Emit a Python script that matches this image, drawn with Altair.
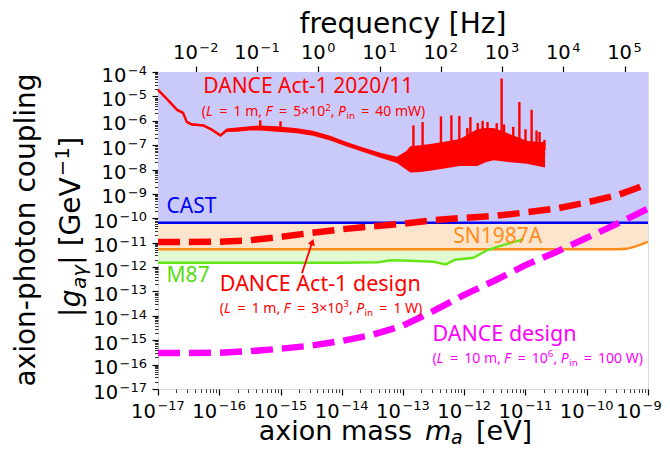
import altair as alt
import pandas as pd

EV_TO_HZ = 2.418e14  # frequency per eV of axion mass

# ---- tick labels (10 to the power of ...) ------------------------------
x_exps = [-17, -16, -15, -14, -13, -12, -11, -10, -9]
x_exp_labels = ["−17", "−16", "−15", "−14", "−13", "−12", "−11", "−10", "−9"]
y_exps = [-17, -16, -15, -14, -13, -12, -11, -10, -9, -8, -7, -6, -5, -4]
y_exp_labels = ["−17", "−16", "−15", "−14", "−13", "−12", "−11", "−10", "−9", "−8", "−7",
                "−6", "−5", "−4"]
f_exps = [-2, -1, 0, 1, 2, 3, 4, 5]
f_exp_labels = ["−2", "−1", "0", "1", "2", "3", "4", "5"]

# ---- data (log10 values) ------------------------------------------------
cast_logg = -10.18

sn_logm = [-17.0, -9.5, -9.35, -9.2, -9.0]
sn_logg = [-11.27, -11.27, -11.25, -11.15, -10.97]

m87_logm = [-17.0, -14.0, -13.4, -13.2, -12.9, -12.5, -12.3, -12.15, -11.85, -11.62,
            -11.5, -11.3, -11.03]
m87_logg = [-11.82, -11.82, -11.80, -11.72, -11.74, -11.78, -11.89, -11.70, -11.62, -11.30,
            -11.20, -11.05, -10.85]
m87_fill_n = 10  # points of the M87 curve lying below the SN1987A line

act1_design_logm = [-17.0, -16.5, -16.0, -15.5, -15.0, -14.5, -14.0, -13.5, -13.0, -12.5,
                    -12.0, -11.5, -11.0, -10.5, -10.0, -9.5, -9.2, -9.0]
act1_design_logg = [-10.97, -10.97, -10.96, -10.90, -10.76, -10.60, -10.45, -10.33, -10.22,
                    -10.08, -9.98, -9.90, -9.76, -9.60, -9.35, -9.05, -8.78, -8.58]

dance_logm = [-17.0, -16.5, -16.0, -15.5, -15.0, -14.5, -14.0, -13.5, -13.0, -12.5, -12.0,
              -11.5, -11.0, -10.5, -10.0, -9.5, -9.0]
dance_logg = [-15.52, -15.52, -15.51, -15.45, -15.35, -15.22, -15.03, -14.78, -14.40, -13.80,
              -13.14, -12.55, -11.92, -11.38, -10.80, -10.22, -9.60]

meas_logm = [-17.0, -16.86, -16.69, -16.59, -16.53, -16.45, -16.26, -16.12, -15.98, -15.88,
             -15.71, -15.50, -15.33, -15.06, -14.73, -14.47, -14.19, -13.92, -13.65, -13.37,
             -13.10, -12.95, -12.88, -12.72, -12.56, -12.30, -12.07, -11.90, -11.79, -11.65,
             -11.52, -11.25, -10.98, -10.80, -10.68]
meas_mid = [-4.73, -5.09, -5.55, -5.68, -6.05, -6.15, -6.19, -6.37, -6.60, -6.39,
            -6.36, -6.30, -6.28, -6.32, -6.40, -6.50, -6.70, -6.95, -7.18, -7.40,
            -7.60, -7.62, -7.60, -7.55, -7.50, -7.35, -7.30, -7.20, -7.05, -7.00,
            -6.95, -7.05, -7.20, -7.25, -7.35]
meas_hi = [-4.68, -5.04, -5.50, -5.63, -6.00, -6.10, -6.14, -6.32, -6.55, -6.32,
           -6.28, -6.22, -6.19, -6.22, -6.31, -6.41, -6.61, -6.87, -7.10, -7.31,
           -7.48, -7.25, -7.05, -7.00, -6.95, -6.85, -6.75, -6.50, -6.35, -6.30,
           -6.30, -6.55, -6.82, -6.87, -6.87]
meas_lo = [-4.78, -5.14, -5.60, -5.73, -6.10, -6.20, -6.24, -6.42, -6.65, -6.46,
           -6.45, -6.40, -6.40, -6.45, -6.51, -6.61, -6.81, -7.06, -7.28, -7.52,
           -7.73, -8.00, -8.12, -8.10, -8.05, -7.95, -7.85, -7.85, -7.85, -7.70,
           -7.62, -7.70, -7.76, -7.85, -7.92]

spike_logm = [-15.33, -15.00, -12.83, -12.68, -12.38, -12.21, -12.08, -11.95, -11.90, -11.78,
              -11.70, -11.62, -11.47, -11.39, -11.35, -11.20, -11.10, -11.00, -10.90, -10.82,
              -10.77, -10.69]
spike_top = [-5.98, -6.02, -6.19, -6.05, -5.82, -5.78, -5.80, -6.30, -5.85, -6.09,
             -6.00, -6.05, -6.10, -4.27, -6.15, -6.25, -5.23, -6.35, -5.55, -6.40,
             -6.46, -6.78]
spike_base = [-6.3, -6.3, -7.3, -7.3, -7.2, -7.2, -7.1, -7.0, -7.0, -7.0,
              -7.0, -7.0, -7.0, -7.0, -7.0, -7.0, -7.1, -7.1, -7.2, -7.2,
              -7.2, -7.2]

# ---- styles --------------------------------------------------------------
RED = "#FF0000"
MAGENTA = "#FF00FF"
BLUE = "#0000F5"
ORANGE = "#FF8C1A"
GREEN = "#66E61A"
TICK_FONT = "DejaVu Sans"
ANN_FONT = "Noto Sans"
PLOT_W, PLOT_H = 490, 317
BASE_FS, EXP_FS = 19.5, 13
EXP_GAP = 1.5

x_scale = alt.Scale(type="log", domain=[1e-17, 1e-9], nice=False)
y_scale = alt.Scale(type="log", domain=[1e-17, 1e-4], nice=False)
f_scale = alt.Scale(type="log", domain=[EV_TO_HZ * 1e-17, EV_TO_HZ * 1e-9], nice=False)

MAJOR = "abs(log(datum.value)/LN10 - round(log(datum.value)/LN10)) < 0.001"


def tick_values(exps, minor=True):
    vals = []
    for i, e in enumerate(exps):
        vals.append(10.0 ** e)
        if minor and i < len(exps) - 1:
            vals += [k * 10.0 ** e for k in range(2, 10)]
    return vals


def make_axis(orient, exps, minor=True):
    return alt.Axis(
        orient=orient, values=tick_values(exps, minor), labels=False,
        title=None, grid=False, domain=False, tickColor="black",
        tickSize={"condition": {"test": MAJOR, "value": 6}, "value": 3.5},
        tickWidth={"condition": {"test": MAJOR, "value": 1.2}, "value": 0.8})


x_axis = make_axis("bottom", x_exps)
y_axis = make_axis("left", y_exps)
f_axis = make_axis("top", f_exps, minor=False)


def X(field):
    return alt.X(f"{field}:Q", scale=x_scale, axis=x_axis)


def Y(field):
    return alt.Y(f"{field}:Q", scale=y_scale, axis=y_axis)


def F(field):
    return alt.X(f"{field}:Q", scale=f_scale, axis=f_axis)


def p10(v):
    return [10.0 ** a for a in v]


W10 = 1.272 * BASE_FS


def exp_w(s):
    return sum(0.838 if c == "−" else 0.636 for c in s) * EXP_FS


def horizontal_labels(exps, labels, enc, y10, yexp, edge_shift=None):
    out = []
    df = pd.DataFrame({"v": p10(exps), "e": labels})
    df["w"] = [exp_w(s) for s in labels]
    df["grp"] = df["w"].round(2)
    if edge_shift:
        df.loc[df["e"] == edge_shift[0], "grp"] = -1
    for g, sub in df.groupby("grp"):
        w = sub["w"].iloc[0]
        d = W10 - (W10 + EXP_GAP + w) / 2 + (edge_shift[1] if g == -1 else 0)
        sub = sub.reset_index(drop=True)
        out.append(alt.Chart(sub).mark_text(text="10", align="right", baseline="alphabetic",
                                            font=TICK_FONT, fontSize=BASE_FS, dx=d, color="black")
                   .encode(x=enc("v"), y=alt.value(y10)))
        out.append(alt.Chart(sub).mark_text(align="left", baseline="alphabetic", font=TICK_FONT,
                                            fontSize=EXP_FS, dx=d + EXP_GAP, color="black")
                   .encode(x=enc("v"), y=alt.value(yexp), text="e:N"))
    return out


def left_labels():
    out = []
    df = pd.DataFrame({"v": p10(y_exps), "e": y_exp_labels})
    df["w"] = [exp_w(s) for s in y_exp_labels]
    df["grp"] = df["w"].round(2)
    for g, sub in df.groupby("grp"):
        w = sub["w"].iloc[0]
        sub = sub.reset_index(drop=True)
        out.append(alt.Chart(sub).mark_text(text="10", align="right", baseline="alphabetic",
                                            font=TICK_FONT, fontSize=BASE_FS, dy=9.5, color="black")
                   .encode(x=alt.value(-11 - w - EXP_GAP), y=Y("v")))
        out.append(alt.Chart(sub).mark_text(align="right", baseline="alphabetic", font=TICK_FONT,
                                            fontSize=EXP_FS, dy=3, color="black")
                   .encode(x=alt.value(-11), y=Y("v"), text="e:N"))
    return out


# rich text (mixed italic / sub / superscript) built from pieces
NOTO_W = {"(": .296, ")": .296, " ": .26, "=": .572, "m": .924, ",": .258, "×": .572,
          "W": .907, "L": .53, "F": .53, "P": .60, "i": .258, "n": .618}


def text_w(s, size):
    return sum(NOTO_W.get(c, .572) for c in s) * size


def rich(parts, x, y, size, color, font=ANN_FONT, angle=0, widths=None, data=None):
    out = []
    cum = 0.0
    one = data if data is not None else pd.DataFrame({"t": ["."]})
    for k, (txt, kind) in enumerate(parts):
        fs = size * 0.7 if kind in ("sup", "sub") else size
        dy = -0.4 * size if kind == "sup" else (0.22 * size if kind == "sub" else 0)
        style = "italic" if kind in ("i", "isub") else "normal"
        if kind == "isub":
            fs, dy = size * 0.7, 0.22 * size
        adv = widths[k] if widths else (1.45 * size if txt == " = " else text_w(txt, fs))
        shown = "=" if txt == " = " else txt
        off = (adv - text_w("=", fs)) / 2 if txt == " = " else 0
        out.append(alt.Chart(one).mark_text(text=shown, align="left", baseline="alphabetic",
                                            font=font, fontSize=fs, fontStyle=style, dx=cum + off,
                                            dy=dy, angle=angle, color=color)
                   .encode(x=x, y=y))
        cum += adv
    return out


def anchor(logm, logg):
    return pd.DataFrame({"m": [10 ** logm], "g": [10 ** logg]})


def rich_at(parts, logm, logg, size, color):
    return rich(parts, X("m"), Y("g"), size, color, data=anchor(logm, logg))


layers = []

# shaded regions
blue_df = pd.DataFrame({"m": [1e-17, 1e-9], "lo": [10 ** cast_logg] * 2, "hi": [1e-4] * 2})
layers.append(alt.Chart(blue_df).mark_area(color="#CACAFA", opacity=1)
              .encode(x=X("m"), y=Y("lo"), y2="hi"))

sn_df = pd.DataFrame({"m": p10(sn_logm), "g": p10(sn_logg), "top": [10 ** cast_logg] * len(sn_logm)})
layers.append(alt.Chart(sn_df).mark_area(color="#FDE4CC", opacity=1)
              .encode(x=X("m"), y=Y("g"), y2="top"))

green_df = pd.DataFrame({"m": p10(m87_logm[:m87_fill_n]), "g": p10(m87_logg[:m87_fill_n]),
                         "top": [10 ** sn_logg[0]] * m87_fill_n})
layers.append(alt.Chart(green_df).mark_area(color="#E2FAD2", opacity=1)
              .encode(x=X("m"), y=Y("g"), y2="top"))

# limit lines
cast_df = pd.DataFrame({"m": [1e-17, 1e-9], "g": [10 ** cast_logg] * 2})
layers.append(alt.Chart(cast_df).mark_line(color=BLUE, strokeWidth=2.6)
              .encode(x=X("m"), y=Y("g")))
layers.append(alt.Chart(sn_df).mark_line(color=ORANGE, strokeWidth=2.4)
              .encode(x=X("m"), y=Y("g")))
m87_df = pd.DataFrame({"m": p10(m87_logm), "g": p10(m87_logg)})
layers.append(alt.Chart(m87_df).mark_line(color=GREEN, strokeWidth=2.4)
              .encode(x=X("m"), y=Y("g")))

# measured DANCE Act-1 curve
meas_df = pd.DataFrame({"m": p10(meas_logm), "mid": p10(meas_mid), "hi": p10(meas_hi),
                        "lo": p10(meas_lo)})
layers.append(alt.Chart(meas_df).mark_area(color=RED, opacity=1)
              .encode(x=X("m"), y=Y("lo"), y2="hi"))
layers.append(alt.Chart(meas_df).mark_line(color=RED, strokeWidth=2.4)
              .encode(x=X("m"), y=Y("mid")))
spike_df = pd.DataFrame({"m": p10(spike_logm), "top": p10(spike_top), "base": p10(spike_base)})
layers.append(alt.Chart(spike_df).mark_rule(color=RED, strokeWidth=2.4)
              .encode(x=X("m"), y=Y("base"), y2="top"))

# design curves
a1d_df = pd.DataFrame({"m": p10(act1_design_logm), "g": p10(act1_design_logg)})
layers.append(alt.Chart(a1d_df).mark_line(color=RED, strokeWidth=6.5, strokeDash=[22, 9],
                                         strokeCap="butt", clip=True)
              .encode(x=X("m"), y=Y("g")))
dance_df = pd.DataFrame({"m": p10(dance_logm), "g": p10(dance_logg)})
layers.append(alt.Chart(dance_df).mark_line(color=MAGENTA, strokeWidth=6.5, strokeDash=[22, 9],
                                           strokeCap="butt", clip=True)
              .encode(x=X("m"), y=Y("g")))

# arrow
arrow_df = pd.DataFrame({"m": [10 ** -14.65], "g": [10 ** -12.25], "m2": [10 ** -14.475],
                         "g2": [10 ** -10.93]})
layers.append(alt.Chart(arrow_df).mark_rule(color=RED, strokeWidth=1.8)
              .encode(x=X("m"), y=Y("g"), x2="m2", y2="g2"))
head_df = pd.DataFrame({"m": [10 ** -14.48], "g": [10 ** -10.97]})
layers.append(alt.Chart(head_df).mark_point(shape="triangle-up", filled=True, size=55, angle=18,
                                           color=RED, opacity=1)
              .encode(x=X("m"), y=Y("g")))


# annotations
def ann(text, logm, logg, color, size, font=ANN_FONT):
    df = pd.DataFrame({"m": [10 ** logm], "g": [10 ** logg], "t": [text]})
    return (alt.Chart(df).mark_text(align="left", baseline="middle", font=font, fontSize=size,
                                    color=color)
            .encode(x=X("m"), y=Y("g"), text="t:N"))


layers += [
    ann("DANCE Act-1 2020/11", -16.26, -4.63, RED, 21),
    ann("CAST", -16.86, -9.55, BLUE, 21),
    ann("SN1987A", -12.18, -10.77, ORANGE, 21),
    ann("M87", -16.86, -12.38, "#55DD11", 21),
    ann("DANCE Act-1 design", -15.99, -12.75, RED, 21.5),
    ann("DANCE design", -12.52, -14.80, MAGENTA, 21.5),
]
layers += rich_at([("(", "n"), ("L", "i"), (" = ", "n"), ("1 m, ", "n"), ("F", "i"), (" = ", "n"),
                   ("5×10", "n"), ("2", "sup"), (", ", "n"), ("P", "i"), ("in", "sub"),
                   (" = ", "n"), ("40 mW)", "n")], -16.286, -5.82, 14, RED)
layers += rich_at([("(", "n"), ("L", "i"), (" = ", "n"), ("1 m, ", "n"), ("F", "i"), (" = ", "n"),
                   ("3×10", "n"), ("3", "sup"), (", ", "n"), ("P", "i"), ("in", "sub"),
                   (" = ", "n"), ("1 W)", "n")], -15.99, -13.87, 14, RED)
layers += rich_at([("(", "n"), ("L", "i"), (" = ", "n"), ("10 m, ", "n"), ("F", "i"), (" = ", "n"),
                   ("10", "n"), ("6", "sup"), (", ", "n"), ("P", "i"), ("in", "sub"),
                   (" = ", "n"), ("100 W)", "n")], -12.52, -15.92, 14, MAGENTA)

# tick labels
layers += horizontal_labels(x_exps, x_exp_labels, X, PLOT_H + 29, PLOT_H + 20.5,
                            edge_shift=("−9", -9))
layers += left_labels()

# axis titles drawn as text
title_df = pd.DataFrame({"t": ["x"]})
TITLE_Y = 368
layers.append(alt.Chart(title_df).mark_text(text="axion mass", font=TICK_FONT, fontSize=27,
                                            align="right", baseline="alphabetic", color="black")
              .encode(x=alt.value(254), y=alt.value(TITLE_Y)))
layers.append(alt.Chart(title_df).mark_text(text="m", font=TICK_FONT, fontSize=27,
                                            fontStyle="italic", align="left",
                                            baseline="alphabetic", color="black")
              .encode(x=alt.value(267), y=alt.value(TITLE_Y)))
layers.append(alt.Chart(title_df).mark_text(text="a", font=TICK_FONT, fontSize=19,
                                            fontStyle="italic", align="left",
                                            baseline="alphabetic", color="black")
              .encode(x=alt.value(293), y=alt.value(TITLE_Y + 4)))
layers.append(alt.Chart(title_df).mark_text(text="[eV]", font=TICK_FONT, fontSize=27,
                                            align="left", baseline="alphabetic", color="black")
              .encode(x=alt.value(318), y=alt.value(TITLE_Y)))
layers.append(alt.Chart(title_df).mark_text(text="axion-photon coupling", font=TICK_FONT,
                                            fontSize=28, align="center", baseline="middle",
                                            angle=270, color="black")
              .encode(x=alt.value(-131), y=alt.value(158)))
layers += rich([("|", "n"), ("g", "i"), ("aγ", "isub"), ("| [GeV", "n"), ("−1", "sup"), ("]", "n")],
               alt.value(-78), alt.value(245), 28, "black", font=TICK_FONT, angle=270,
               widths=[9.8, 18.5, 24, 88.5, 28.5, 11])
layers.append(alt.Chart(title_df).mark_text(text="frequency [Hz]", font=TICK_FONT, fontSize=28,
                                            align="center", baseline="alphabetic",
                                            color="black")
              .encode(x=alt.value(245), y=alt.value(-39)))

main = alt.layer(*layers)

# top frequency axis
freq_df = pd.DataFrame({"f": [EV_TO_HZ * 1e-17, EV_TO_HZ * 1e-9]})
freq_layers = [alt.Chart(freq_df).mark_point(opacity=0).encode(x=F("f"), y=alt.value(0))]
freq_layers += horizontal_labels(f_exps, f_exp_labels, F, -13.3, -20.5)
freq = alt.layer(*freq_layers)

chart = (alt.layer(main, freq)
         .resolve_scale(x="independent")
         .properties(width=PLOT_W, height=PLOT_H, autosize=alt.AutoSizeParams(type="none"),
                     padding={"left": 150, "top": 64, "right": 14, "bottom": 56})
         .configure_view(stroke="black", strokeWidth=1.4)
         .configure(background="white"))

chart.save("out.html", embed_options={"renderer": "svg", "actions": False})
